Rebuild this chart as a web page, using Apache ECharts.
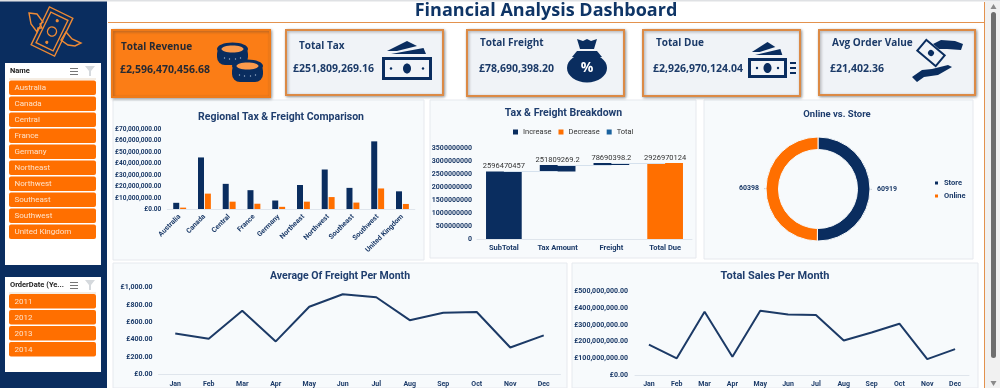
<!DOCTYPE html>
<html>
<head>
<meta charset="utf-8">
<style>
html, body { margin: 0; padding: 0; background: #fff; overflow: hidden; }
#main { width: 1000px; height: 388px; }
</style>
<script src="https://cdn.jsdelivr.net/npm/echarts@6/dist/echarts.min.js"></script>
</head>
<body>
<div id="main"></div>
<script>
const regions = ['Australia', 'Canada', 'Central', 'France', 'Germany', 'Northeast', 'Northwest', 'Southeast', 'Southwest', 'United Kingdom']
const regionTax = [6000000, 45500000, 22500000, 17000000, 8000000, 21500000, 35000000, 19000000, 59500000, 16000000]
const regionFreight = [1800000, 14000000, 7000000, 5200000, 2500000, 7000000, 11000000, 6200000, 18500000, 5000000]

const breakdownLabels = ['SubTotal', 'Tax Amount', 'Freight', 'Total Due']
const subTotal = 2596470457
const taxAmount = 251809269.2
const freightAmount = 78690398.2
const totalDue = 2926970124

const channels = ['Store', 'Online']
const channelOrders = [60919, 60398]

const months = ['Jan', 'Feb', 'Mar', 'Apr', 'May', 'Jun', 'Jul', 'Aug', 'Sep', 'Oct', 'Nov', 'Dec']
const avgFreight = [470, 410, 735, 380, 780, 925, 890, 625, 710, 720, 310, 450]
const totalSales = [182000000, 100000000, 380000000, 110000000, 386000000, 363000000, 360000000, 207000000, 255000000, 308000000, 95000000, 155000000]

const years = ['2011', '2012', '2013', '2014']
const kpiTitles = ['Total Revenue', 'Total Tax', 'Total Freight', 'Total Due', 'Avg Order Value']
const kpiValues = ['£2,596,470,456.68', '£251,809,269.16', '£78,690,398.20', '£2,926,970,124.04', '£21,402.36']

const NAVY = '#0a2d5f'
const ORANGE = '#ff6f00'
const TEXT = '#1b3a68'
const PANEL = '#f7fafc'
const FONT = 'Roboto, sans-serif'
const CARD_FONT = '"Open Sans", sans-serif'

const money = v => '£' + v.toLocaleString('en-GB', { minimumFractionDigits: 2, maximumFractionDigits: 2 })

// small helpers for the dashboard furniture around the charts
const box = (x, y, width, height, fill, extra = {}) => ({
  type: 'rect', shape: { x, y, width, height, r: extra.r || 0 },
  style: { fill, stroke: extra.stroke, lineWidth: extra.lineWidth || 0, shadowBlur: extra.blur || 0, shadowColor: 'rgba(60,60,60,0.45)', shadowOffsetX: extra.blur ? 1 : 0, shadowOffsetY: extra.blur ? 1 : 0 },
  z: extra.z || 0
})
const label = (x, y, text, size, fill, weight = 'normal', align = 'left', fontFamily = FONT) => ({
  type: 'text', x, y, z: 10,
  style: { text, fontSize: size, fontWeight: weight, fontFamily, fill, align, verticalAlign: 'middle' }
})
// graphic component has no svg path type, icons are polygons placed at x,y
const icon = (points, x, y, fill, z = 5) => ({
  type: 'polygon', z, shape: { points: points.map(p => [p[0] + x, p[1] + y]) }, style: { fill }
})
const dot = (cx, cy, r, fill, z = 6) => ({ type: 'circle', z, shape: { cx, cy, r }, style: { fill } })
const ellipse = (cx, cy, rx, ry, fill, z = 6) => ({ type: 'ellipse', z, shape: { cx, cy, rx, ry }, style: { fill } })

const banknote = (x, y, w, h) => [
  box(x, y, w, h, NAVY, { z: 5 }),
  box(x + 3, y + 3, w - 6, h - 6, '#f1f4f8', { z: 6 }),
  ellipse(x + w / 2, y + h / 2, 4, 5, NAVY, 7),
  dot(x + 9, y + h / 2, 1.2, NAVY, 7),
  dot(x + w - 9, y + h / 2, 1.2, NAVY, 7),
  icon([[w * 0.4, 0], [w * 0.6, 5], [w * 0.2, 10], [0, 10]], x + w * 0.1, y - 16, NAVY),
  icon([[w * 0.65, 0], [w * 0.7, 6], [0, 6]], x + w * 0.18, y - 9, NAVY)
]

const slicer = (top, height, title, items, itemsTop) => {
  const out = [
    box(5, top, 96, height, '#fff', { z: 2 }),
    label(10, top + 8, title, 7.5, '#1c1c1c', 'bold'),
    box(9, top + 15.5, 87, 1, '#ecdcc8', { z: 3 }),
    // select and filter buttons in the slicer header
    box(70, top + 5, 8, 1, '#777', { z: 3 }), box(70, top + 8, 8, 1, '#777', { z: 3 }), box(70, top + 11, 8, 1, '#777', { z: 3 }),
    icon([[0, 0], [10, 0], [6, 5], [6, 10], [4, 10], [4, 5]], 85, top + 3, '#d5d9dd', 3)
  ]
  items.forEach((name, i) => {
    out.push(box(9, itemsTop + i * 16, 87, 14.5, ORANGE, { r: 2, z: 3 }))
    out.push(label(14.5, itemsTop + i * 16 + 7.5, name, 8, '#ffe2c9'))
  })
  return out
}

const cardBoxes = [[112, 30, 158, 67], [286, 30, 157, 65], [467, 30, 157, 66], [643, 30, 157, 66], [819, 30, 156, 65]]
const cardTitlePos = [[121, 47], [299, 46], [480, 43], [656, 43], [832, 43]]
const cardValuePos = [[120, 70], [293, 69], [479, 69], [653, 69], [830, 69]]

const cards = []
cardBoxes.forEach((c, i) => {
  const first = i === 0
  cards.push(box(c[0], c[1], c[2], c[3], first ? '#fb7d16' : '#f0f3f7', { stroke: first ? '#ef7a18' : '#dc8a45', lineWidth: 2, blur: 3, z: 3 }))
  cards.push(label(cardTitlePos[i][0], cardTitlePos[i][1], kpiTitles[i], 10, first ? '#262a33' : TEXT, 'bold', 'left', CARD_FONT))
  cards.push(label(cardValuePos[i][0], cardValuePos[i][1], kpiValues[i], 10.5, first ? '#262a33' : TEXT, 'bold', 'left', CARD_FONT))
})

const coinStack = (cx, top) => [
  box(cx - 15.5, top + 3, 31, 19, NAVY, { r: 8, z: 5 }),
  ellipse(cx, top + 6, 15.5, 6.5, NAVY, 6),
  ellipse(cx, top + 6, 11, 3.5, '#fb9a4c', 7),
  dot(cx - 8, top + 15, 0.7, '#9fb3cc', 7), dot(cx - 3, top + 16, 0.7, '#9fb3cc', 7),
  dot(cx + 3, top + 16, 0.7, '#9fb3cc', 7), dot(cx + 8, top + 15, 0.7, '#9fb3cc', 7)
]

const icons = [
  ...coinStack(232.5, 43), ...coinStack(247.5, 60),
  ...banknote(382, 57, 50, 23),
  icon([[0, 0], [6, 2], [10, 0], [14, 2], [20, 0], [17, 10], [3, 10]], 577, 39, NAVY),
  ellipse(587, 68, 20, 14.5, NAVY, 5),
  icon([[10, 0], [30, 0], [35, 6], [5, 6]], 567, 51, NAVY),
  label(587, 68, '%', 14, '#fff', 'bold', 'center', CARD_FONT),
  ...banknote(748, 58, 39, 20),
  box(790, 62, 6, 2, NAVY, { z: 5 }), box(790, 67, 6, 2, NAVY, { z: 5 }), box(790, 72, 6, 2, NAVY, { z: 5 }),
  icon([[0, 4], [8, 0], [22, 1], [30, 4], [28, 10], [14, 9], [6, 9]], 933, 40, NAVY),
  icon([[0, 12], [10, 5], [20, 4], [36, 0], [40, 2], [26, 10], [12, 12], [5, 17]], 912, 65, NAVY),
  {
    type: 'group', x: 931, y: 53, rotation: -0.7, z: 6,
    children: [
      { type: 'rect', z: 6, shape: { x: -12, y: -7, width: 24, height: 14 }, style: { fill: '#f0f3f7', stroke: NAVY, lineWidth: 2 } },
      { type: 'circle', z: 7, shape: { cx: 0, cy: 0, r: 3 }, style: { fill: NAVY } }
    ]
  }
]

const logoStroke = { fill: 'none', stroke: '#ee8a35', lineWidth: 1.4 }
const logo = [
  {
    type: 'group', x: 52, y: 31.5, rotation: -0.45, z: 5,
    children: [
      { type: 'rect', z: 5, shape: { x: -13, y: -21, width: 26, height: 42 }, style: logoStroke },
      { type: 'rect', z: 5, shape: { x: -9.5, y: -17, width: 19, height: 34 }, style: logoStroke },
      { type: 'circle', z: 5, shape: { cx: 0, cy: 0, r: 4.5 }, style: logoStroke },
      { type: 'circle', z: 5, shape: { cx: 0, cy: -12, r: 1.6 }, style: { fill: '#ee8a35' } },
      { type: 'circle', z: 5, shape: { cx: 0, cy: 12, r: 1.6 }, style: { fill: '#ee8a35' } }
    ]
  },
  { type: 'polygon', z: 5, shape: { points: [[29, 13], [37, 14], [43, 22], [40, 24], [42, 28], [38, 28], [37, 32], [31, 24]] }, style: logoStroke },
  { type: 'polygon', z: 5, shape: { points: [[61, 40], [66, 32], [72, 39], [81, 43], [75, 46], [68, 45]] }, style: logoStroke }
]

const furniture = [
  box(0, 0, 1000, 1.5, '#dfe1e4'),
  box(0, 1.5, 107, 386.5, NAVY, { z: 1 }),
  ...logo,
  ...slicer(63, 202, 'Name', regions, 80.5),
  ...slicer(277, 95, 'OrderDate (Ye...', years, 294),
  box(108, 22, 876, 1, '#e3924e'),
  box(984, 2, 1, 386, '#e3924e'),
  box(985, 2, 15, 386, '#f1f1f1'),
  box(991, 12, 5, 346, '#6f6f6f', { r: 2.5 }),
  icon([[3, 0], [6, 5], [0, 5]], 990.5, 4, '#8a8a8a'),
  icon([[0, 0], [6, 0], [3, 5]], 990.5, 381, '#8a8a8a'),
  label(546, 10.5, 'Financial Analysis Dashboard', 18, '#0f3566', 'bold', 'center', CARD_FONT),
  box(113, 100, 311, 160, PANEL, { stroke: '#e6e9ee', lineWidth: 1 }),
  box(430, 100, 266, 158, PANEL, { stroke: '#e6e9ee', lineWidth: 1 }),
  box(704, 100, 269, 159, PANEL, { stroke: '#e6e9ee', lineWidth: 1 }),
  box(113, 263, 454, 125, PANEL, { stroke: '#e6e9ee', lineWidth: 1 }),
  box(572, 263, 406, 125, PANEL, { stroke: '#e6e9ee', lineWidth: 1 }),
  ...cards,
  ...icons
]

const chartTitle = (text, left, top, fontSize = 11) => ({
  text, left, top, textAlign: 'center',
  textStyle: { color: '#1f3e6e', fontSize, fontWeight: 'bold', fontFamily: FONT }
})

const tickStyle = { color: TEXT, fontSize: 6.5, fontWeight: 'bold', fontFamily: FONT }
const categoryAxis = (gridIndex, data, extra = {}) => ({
  type: 'category', gridIndex, data, z: 4,
  axisTick: { show: false },
  axisLine: { lineStyle: { color: '#dfe5ec' } },
  axisLabel: { ...tickStyle, margin: 5, interval: 0, ...extra }
})
const valueAxis = (gridIndex, max, interval, formatter, extra = {}) => ({
  type: 'value', gridIndex, min: 0, max, interval, z: 4,
  splitLine: { show: false },
  axisLine: { show: false },
  axisTick: { show: false },
  axisLabel: { ...tickStyle, margin: 6, formatter, ...extra }
})
const lineSeries = (name, index, data) => ({
  name, type: 'line', xAxisIndex: index, yAxisIndex: index, data,
  symbol: 'none', lineStyle: { color: '#1c3a66', width: 2 }, itemStyle: { color: '#1c3a66' }
})

const taxLevel = subTotal + taxAmount
const barLabel = { show: true, position: 'top', distance: 1, color: '#333', fontSize: 7.5, fontFamily: FONT, formatter: p => String(p.value) }

const option = {
  animation: false,
  graphic: { elements: furniture },
  title: [
    chartTitle('Regional Tax & Freight Comparison', 276, 107, 10.5),
    chartTitle('Tax & Freight Breakdown', 558.5, 103, 10.5),
    chartTitle('Online vs. Store', 832, 105, 9.5),
    chartTitle('Average Of Freight Per Month', 335, 266, 10.5),
    chartTitle('Total Sales Per Month', 770, 266)
  ],
  legend: [
    {
      data: ['Increase', 'Decrease', 'Total'], left: 508, top: 123, icon: 'rect', itemWidth: 5, itemHeight: 5, itemGap: 7,
      textStyle: { color: '#333', fontSize: 7.5, fontFamily: FONT }
    },
    {
      data: channels, orient: 'vertical', left: 928, top: 174, icon: 'rect', itemWidth: 5, itemHeight: 5, itemGap: 5,
      textStyle: { color: TEXT, fontSize: 7.5, fontWeight: 'bold', fontFamily: FONT }
    }
  ],
  grid: [
    { left: 167.3, top: 129.3, width: 247.5, height: 80.4 },
    { left: 477, top: 148, width: 215, height: 91.3 },
    { left: 158.5, top: 287.7, width: 402, height: 86.6 },
    { left: 635, top: 291.7, width: 334, height: 83.3 }
  ],
  xAxis: [
    categoryAxis(0, regions, { rotate: 45, fontSize: 7, margin: 6 }),
    categoryAxis(1, breakdownLabels, { fontSize: 7.5, margin: 5 }),
    categoryAxis(2, months, { fontSize: 7, margin: 6 }),
    categoryAxis(3, months, { fontSize: 7, margin: 6 })
  ],
  yAxis: [
    valueAxis(0, 70000000, 10000000, money),
    valueAxis(1, 3500000000, 500000000, v => String(v), { fontSize: 7, margin: 5 }),
    valueAxis(2, 1000, 200, money, { fontSize: 7 }),
    valueAxis(3, 500000000, 100000000, money, { fontSize: 7, margin: 7 })
  ],
  series: [
    { name: 'TaxAmt', type: 'bar', xAxisIndex: 0, yAxisIndex: 0, data: regionTax, barWidth: 6, barGap: '15%', itemStyle: { color: NAVY } },
    { name: 'Freight', type: 'bar', xAxisIndex: 0, yAxisIndex: 0, data: regionFreight, barWidth: 6, barGap: '15%', itemStyle: { color: ORANGE } },
    {
      name: 'base', type: 'bar', stack: 'fall', xAxisIndex: 1, yAxisIndex: 1, barWidth: 35.7,
      data: [0, subTotal, taxLevel, 0],
      itemStyle: { color: 'transparent' }, silent: true,
      markLine: {
        silent: true, symbol: 'none', label: { show: false },
        lineStyle: { color: '#d5e1ed', width: 1, type: 'solid' },
        data: [
          [{ xAxis: breakdownLabels[0], yAxis: subTotal }, { xAxis: breakdownLabels[1], yAxis: subTotal }],
          [{ xAxis: breakdownLabels[1], yAxis: taxLevel }, { xAxis: breakdownLabels[2], yAxis: taxLevel }],
          [{ xAxis: breakdownLabels[2], yAxis: totalDue }, { xAxis: breakdownLabels[3], yAxis: totalDue }]
        ]
      }
    },
    { name: 'Increase', type: 'bar', stack: 'fall', xAxisIndex: 1, yAxisIndex: 1, barWidth: 35.7, data: [subTotal, taxAmount, freightAmount, null], itemStyle: { color: NAVY }, label: barLabel },
    { name: 'Decrease', type: 'bar', stack: 'fall', xAxisIndex: 1, yAxisIndex: 1, barWidth: 35.7, data: [null, null, null, totalDue], itemStyle: { color: ORANGE }, label: barLabel },
    { name: 'Total', type: 'bar', stack: 'fall', xAxisIndex: 1, yAxisIndex: 1, barWidth: 35.7, data: [null, null, null, null], itemStyle: { color: '#1b639f' } },
    {
      name: 'Online vs. Store', type: 'pie', center: [818, 189], radius: [39.5, 52], startAngle: 90,
      data: channels.map((name, i) => ({ name, value: channelOrders[i], itemStyle: { color: i === 0 ? NAVY : ORANGE } })),
      itemStyle: { borderColor: PANEL, borderWidth: 1 },
      label: { show: true, formatter: '{c}', color: TEXT, fontSize: 7, fontWeight: 'bold', fontFamily: FONT },
      labelLine: { show: true, length: 1, length2: 1, lineStyle: { color: '#c3ccd6', width: 1 } }
    },
    lineSeries('Average Of Freight', 2, avgFreight),
    lineSeries('Total Sales', 3, totalSales)
  ]
}

const chart = echarts.init(document.getElementById('main'), null, { renderer: 'canvas' })
chart.setOption(option)
</script>
</body>
</html>
